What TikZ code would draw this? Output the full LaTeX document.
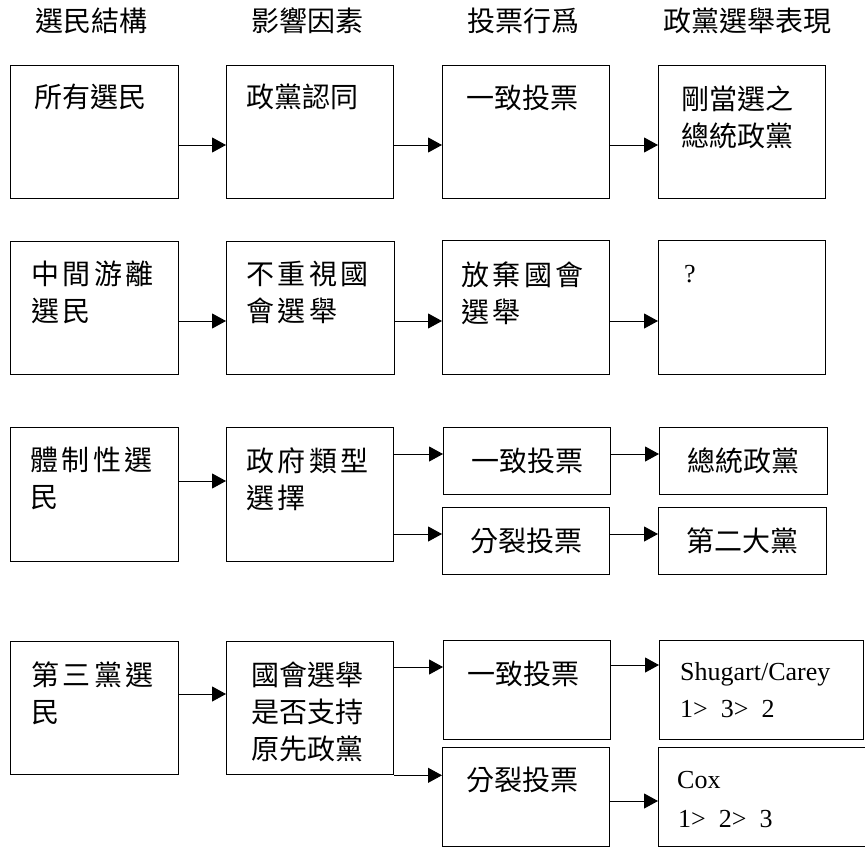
\documentclass[tikz,border=0pt]{standalone}
\usepackage{fontspec}
\newfontfamily\cjk{Noto Sans CJK TC}
\newfontfamily\lat{Liberation Serif}
\usetikzlibrary{arrows.meta}
\newcommand\cg{\kern3.5pt}
\begin{document}
\begin{tikzpicture}[x=1pt,y=-1pt,
  box/.style={draw, line width=1.3pt, inner sep=0pt, anchor=north west},
  txt/.style={anchor=north west, inner sep=0pt, align=left, font=\cjk\fontsize{28}{37}\selectfont},
  ctxt/.style={inner sep=0pt, font=\cjk\fontsize{28}{37}\selectfont},
  ltxt/.style={anchor=base west, inner sep=0pt, font=\lat\fontsize{26}{37}\selectfont},
  conn/.style={line width=1pt, -{Triangle[length=14pt,width=15pt]}}]
\useasboundingbox (0,0) rectangle (865,847);
% headers
\node[ctxt] (h1) at (91,21) {選民結構};
\node[ctxt] (h2) at (307,21) {影響因素};
\node[ctxt] (h3) at (523,21) {投票行爲};
\node[ctxt] (h4) at (747,21) {政黨選舉表現};
% row 1
\node[box, minimum width=168, minimum height=133] (A1) at (10,65) {};
\node[box, minimum width=167, minimum height=133] (B1) at (226,65) {};
\node[box, minimum width=167, minimum height=133] (C1) at (442,65) {};
\node[box, minimum width=167, minimum height=133] (D1) at (658,65) {};
\node[txt] (A1t) at ([xshift=24pt,yshift=-19pt]A1.north west) {所有選民};
\node[txt] (B1t) at ([xshift=20pt,yshift=-19pt]B1.north west) {政黨認同};
\node[txt] (C1t) at ([xshift=24pt,yshift=-20pt]C1.north west) {一致投票};
\node[txt] (D1t) at ([xshift=23pt,yshift=-21pt]D1.north west) {剛當選之\\總統政黨};
\draw[conn] ([yshift=-80pt]A1.north east) -- ([yshift=-80pt]B1.north west);
\draw[conn] ([yshift=-80pt]B1.north east) -- ([yshift=-80pt]C1.north west);
\draw[conn] ([yshift=-80pt]C1.north east) -- ([yshift=-80pt]D1.north west);
% row 2
\node[box, minimum width=168, minimum height=133] (A2) at (10,241) {};
\node[box, minimum width=168, minimum height=133] (B2) at (226,241) {};
\node[box, minimum width=167, minimum height=134] (C2) at (442,240) {};
\node[box, minimum width=167, minimum height=134] (D2) at (658,240) {};
\node[txt] (A2t) at ([xshift=21pt,yshift=-20pt]A2.north west) {中\cg 間\cg 游\cg 離\\選\cg 民};
\node[txt] (B2t) at ([xshift=20pt,yshift=-20pt]B2.north west) {不\cg 重\cg 視\cg 國\\會\cg 選\cg 舉};
\node[txt] (C2t) at ([xshift=19pt,yshift=-22pt]C2.north west) {放\cg 棄\cg 國\cg 會\\選\cg 舉};
\node[ltxt] (D2t) at ([xshift=26pt,yshift=-42pt]D2.north west) {?};
\draw[conn] ([yshift=-80pt]A2.north east) -- ([yshift=-80pt]B2.north west);
\draw[conn] ([yshift=-80pt]B2.north east) -- ([yshift=-81pt]C2.north west);
\draw[conn] ([yshift=-81pt]C2.north east) -- ([yshift=-81pt]D2.north west);
% row 3
\node[box, minimum width=168, minimum height=134] (A3) at (10,427) {};
\node[box, minimum width=167, minimum height=134] (B3) at (226,427) {};
\node[box, minimum width=167, minimum height=67, font=\cjk\fontsize{28}{37}\selectfont] (C3a) at (443,427) {一致投票};
\node[box, minimum width=167, minimum height=67, font=\cjk\fontsize{28}{37}\selectfont] (C3b) at (442,507) {分裂投票};
\node[box, minimum width=168, minimum height=67, font=\cjk\fontsize{28}{37}\selectfont] (D3a) at (659,427) {總統政黨};
\node[box, minimum width=168, minimum height=67, font=\cjk\fontsize{28}{37}\selectfont] (D3b) at (658,507) {第二大黨};
\node[txt] (A3t) at ([xshift=20pt,yshift=-20pt]A3.north west) {體\cg 制\cg 性\cg 選\\民};
\node[txt] (B3t) at ([xshift=20pt,yshift=-20pt]B3.north west) {政\cg 府\cg 類\cg 型\\選\cg 擇};
\draw[conn] ([yshift=-54pt]A3.north east) -- ([yshift=-54pt]B3.north west);
\draw[conn] ([yshift=-27pt]B3.north east) -- ([yshift=-27pt]C3a.north west);
\draw[conn] ([yshift=-107pt]B3.north east) -- ([yshift=-27pt]C3b.north west);
\draw[conn] ([yshift=-27pt]C3a.north east) -- ([yshift=-27pt]D3a.north west);
\draw[conn] ([yshift=-27pt]C3b.north east) -- ([yshift=-27pt]D3b.north west);
% row 4
\node[box, minimum width=168, minimum height=133] (A4) at (10,641) {};
\node[box, minimum width=167, minimum height=133] (B4) at (226,641) {};
\node[box, minimum width=167, minimum height=99] (C4a) at (443,640) {};
\node[box, minimum width=167, minimum height=99] (C4b) at (442,747) {};
\node[box, minimum width=204, minimum height=99] (D4a) at (659,640) {};
\node[box, minimum width=215, minimum height=99] (D4b) at (658,747) {};
\node[txt] (A4t) at ([xshift=21pt,yshift=-21pt]A4.north west) {第\cg 三\cg 黨\cg 選\\民};
\node[txt] (B4t) at ([xshift=25pt,yshift=-21pt]B4.north west) {國會選舉\\是否支持\\原先政黨};
\node[txt] (C4at) at ([xshift=24pt,yshift=-21pt]C4a.north west) {一致投票};
\node[txt] (C4bt) at ([xshift=24pt,yshift=-20pt]C4b.north west) {分裂投票};
\node[ltxt] (D4at) at ([xshift=21pt,yshift=-40pt]D4a.north west) {Shugart/Carey};
\node[ltxt] (D4au) at ([yshift=-37pt]D4at.base west) {1>\ \ 3>\ \ 2};
\node[ltxt] (D4bt) at ([xshift=19pt,yshift=-41pt]D4b.north west) {Cox};
\node[ltxt] (D4bu) at ([xshift=1pt,yshift=-39pt]D4bt.base west) {1>\ \ 2>\ \ 3};
\draw[conn] ([yshift=-53pt]A4.north east) -- ([yshift=-53pt]B4.north west);
\draw[conn] ([yshift=-26pt]B4.north east) -- ([yshift=-27pt]C4a.north west);
\draw[conn] (B4.south east) -- (B4.south east -| C4b.west);
\draw[conn] ([yshift=-25pt]C4a.north east) -- ([yshift=-25pt]D4a.north west);
\draw[conn] ([yshift=-54pt]C4b.north east) -- ([yshift=-54pt]D4b.north west);
\end{tikzpicture}
\end{document}
